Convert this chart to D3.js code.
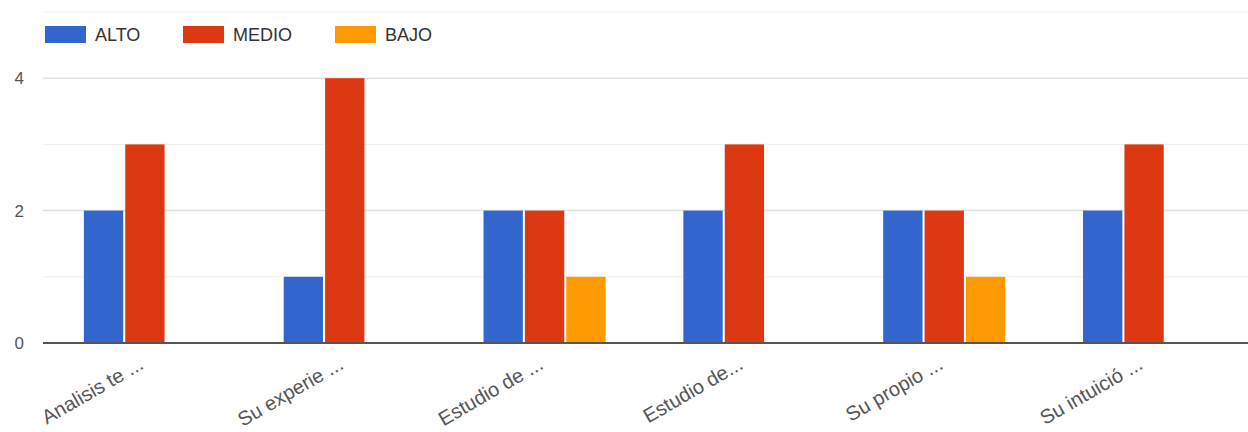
<!DOCTYPE html>
<html><head><meta charset="utf-8">
<script src="https://cdn.jsdelivr.net/npm/d3@7"></script>
<style>body{margin:0;background:#fff;overflow:hidden}svg{display:block}text{font-family:"Liberation Sans",Arial,sans-serif}</style>
</head><body>
<script>
const categories = ["Analisis te ...", "Su experie ...", "Estudio de ...", "Estudio de...", "Su propio ...", "Su intuició ..."];
const seriesNames = ["ALTO", "MEDIO", "BAJO"];
const alto  = [2, 1, 2, 2, 2, 2];
const medio = [3, 4, 2, 3, 2, 3];
const bajo  = [0, 0, 1, 0, 1, 0];
const colors = ["#3366cc", "#dc3912", "#ff9900"];
const yTicks = [0, 2, 4];
const minorTicks = [1, 3, 5];

const W = 1248, H = 432;
const mLeft = 45, mRight = 1244, mTop = 12, mBottom = 343;
const svg = d3.select("body").append("svg").attr("width", W).attr("height", H);

const values = [alto, medio, bajo];
const x0 = d3.scaleBand().domain(categories).range([mLeft, mRight]).paddingInner(0.389).paddingOuter(0.1945);
const x1 = d3.scaleBand().domain(seriesNames).range([0, x0.bandwidth()]).paddingInner(0.05);
const y = d3.scaleLinear().domain([0, 5]).range([mBottom, mTop]);

// gridlines
svg.append("g").selectAll("line").data(minorTicks).join("line")
  .attr("x1", 43).attr("x2", W).attr("y1", d => y(d)).attr("y2", d => y(d))
  .attr("stroke", "#efefef").attr("stroke-width", 1);
svg.append("g").selectAll("line").data(yTicks.filter(d => d !== 0)).join("line")
  .attr("x1", 43).attr("x2", W).attr("y1", d => y(d)).attr("y2", d => y(d))
  .attr("stroke", "#e0e0e0").attr("stroke-width", 1.5);

// y labels
const yAxis = d3.axisLeft(y).tickValues(yTicks).tickSize(0).tickFormat(d3.format("d"));
const ya = svg.append("g").attr("transform", "translate(24,0)").call(yAxis);
ya.select(".domain").remove();
ya.selectAll("text").attr("fill", "#555").attr("font-size", 17).attr("dx", 0).attr("x", 0);

// bars
const groups = svg.append("g").selectAll("g").data(categories).join("g")
  .attr("transform", d => `translate(${x0(d)},0)`);
groups.selectAll("rect").data((d, i) => seriesNames.map((s, k) => ({s, v: values[k][i], c: colors[k]})))
  .join("rect")
  .attr("x", d => x1(d.s)).attr("width", x1.bandwidth())
  .attr("y", d => y(d.v)).attr("height", d => y(0) - y(d.v))
  .attr("fill", d => d.c);

// baseline
svg.append("line").attr("x1", 43).attr("x2", W).attr("y1", y(0)).attr("y2", y(0))
  .attr("stroke", "#555").attr("stroke-width", 2);

// x labels
const xAxis = d3.axisBottom(x0).tickSize(0);
const xa = svg.append("g").attr("transform", `translate(0,${mBottom})`).call(xAxis);
xa.select(".domain").remove();
xa.selectAll("text").attr("fill", "#555").attr("font-size", 20)
  .attr("text-anchor", "end").attr("y", 0).attr("dy", 0)
  .attr("transform", "translate(0,25) rotate(-30)");

// legend
const legendX = [45, 183, 335];
const lg = svg.append("g").selectAll("g").data(seriesNames).join("g")
  .attr("transform", (d, i) => `translate(${legendX[i]},26)`);
lg.append("rect").attr("width", 41).attr("height", 17).attr("fill", (d, i) => colors[i]);
lg.append("text").attr("x", 50).attr("y", 15).attr("font-size", 18).attr("fill", "#333").text(d => d);
</script>
</body></html>
